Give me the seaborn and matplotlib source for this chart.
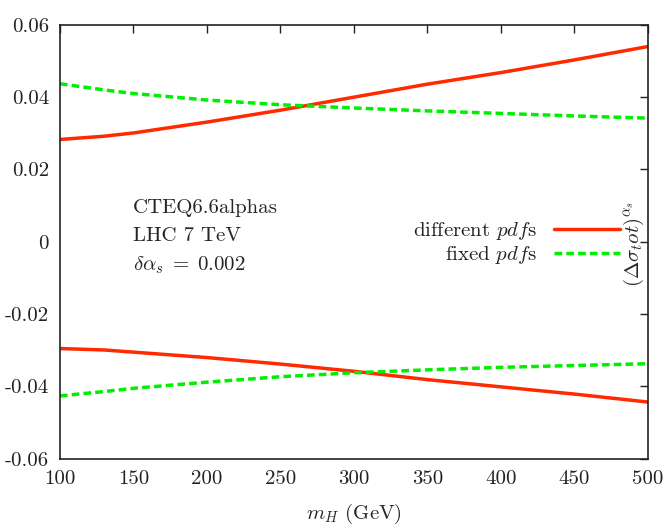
import numpy as np
import pandas as pd
import matplotlib
matplotlib.use("Agg")
import matplotlib.pyplot as plt
import seaborn as sns

# Higgs mass grid (GeV)
m_h = [100, 130, 150, 200, 250, 300, 350, 400, 450, 500]

# alpha_s uncertainty band edges, different vs fixed PDFs
diff_up = [0.0283, 0.0292, 0.0301, 0.0331, 0.0364, 0.0400, 0.0436, 0.0468, 0.0503, 0.0540]
diff_dn = [-0.0295, -0.0299, -0.0305, -0.0320, -0.0338, -0.0358, -0.0381, -0.0401, -0.0421, -0.0443]
fixed_up = [0.0437, 0.0420, 0.0410, 0.0392, 0.0379, 0.0370, 0.0362, 0.0355, 0.0348, 0.0342]
fixed_dn = [-0.0426, -0.0414, -0.0405, -0.0388, -0.0373, -0.0362, -0.0354, -0.0347, -0.0342, -0.0337]

y_ticks = [-0.06, -0.04, -0.02, 0, 0.02, 0.04, 0.06]
y_tick_labels = ["-0.06", "-0.04", "-0.02", "0", "0.02", "0.04", "0.06"]
x_ticks = [100, 150, 200, 250, 300, 350, 400, 450, 500]

FS = 15

sns.set_theme(style="white")
plt.rcParams.update({
    "font.family": ["cmr10", "DejaVu Serif"],
    "mathtext.fontset": "cm",
    "axes.unicode_minus": False,
    "axes.linewidth": 1.2,
    "axes.edgecolor": "#222222",
    "xtick.direction": "in",
    "ytick.direction": "in",
    "xtick.top": True,
    "ytick.right": True,
    "xtick.major.size": 6,
    "ytick.major.size": 6,
    "xtick.major.width": 1.0,
    "ytick.major.width": 1.0,
    "font.size": FS,
})

rows = []
for name, vals in [("diff_up", diff_up), ("diff_dn", diff_dn),
                   ("fixed_up", fixed_up), ("fixed_dn", fixed_dn)]:
    for m, v in zip(m_h, vals):
        rows.append({"mH": m, "val": v, "curve": name})
df = pd.DataFrame(rows)

red = "#ff2a00"
green = "#00ee00"

fig, ax = plt.subplots(figsize=(6.68, 5.28), dpi=100)
fig.subplots_adjust(left=0.0898, right=0.970, top=0.953, bottom=0.131)

sns.lineplot(data=df[df.curve == "diff_up"], x="mH", y="val", ax=ax,
             color=red, lw=2.5, label="different $pdf$s")
sns.lineplot(data=df[df.curve == "fixed_up"], x="mH", y="val", ax=ax,
             color=green, lw=2.5, ls=(0, (2.2, 1.2)), label="fixed $pdf$s")
sns.lineplot(data=df[df.curve == "diff_dn"], x="mH", y="val", ax=ax,
             color=red, lw=2.5, legend=False)
sns.lineplot(data=df[df.curve == "fixed_dn"], x="mH", y="val", ax=ax,
             color=green, lw=2.5, ls=(0, (2.2, 1.2)), legend=False)

ax.set_xlim(100, 500)
ax.set_ylim(-0.06, 0.06)
ax.set_xticks(x_ticks)
ax.set_xticklabels([str(t) for t in x_ticks])
ax.set_yticks(y_ticks)
ax.set_yticklabels(y_tick_labels)
ax.tick_params(axis="both", labelsize=FS, pad=8, colors="#222222")
ax.set_xlabel("$m_H$ (GeV)", fontsize=FS, labelpad=10)
ax.set_ylabel("")

leg = ax.legend(loc="center right", bbox_to_anchor=(0.985, 0.497),
                frameon=False, markerfirst=False, handlelength=3.2,
                handletextpad=0.8, labelspacing=0.1, fontsize=FS)

ax.text(0.976, 0.495, r"$(\Delta\sigma_tot)^{\alpha_s}$", transform=ax.transAxes,
        rotation=90, ha="center", va="center", fontsize=FS)

ax.text(0.124, 0.578, "CTEQ6.6alphas", transform=ax.transAxes, ha="left",
        va="center", fontsize=FS)
ax.text(0.124, 0.514, "LHC 7 TeV", transform=ax.transAxes, ha="left",
        va="center", fontsize=FS)
ax.text(0.124, 0.447, r"$\delta\alpha_s\;=\;0.002$", transform=ax.transAxes,
        ha="left", va="center", fontsize=FS)

fig.savefig("out.png", dpi=100)
